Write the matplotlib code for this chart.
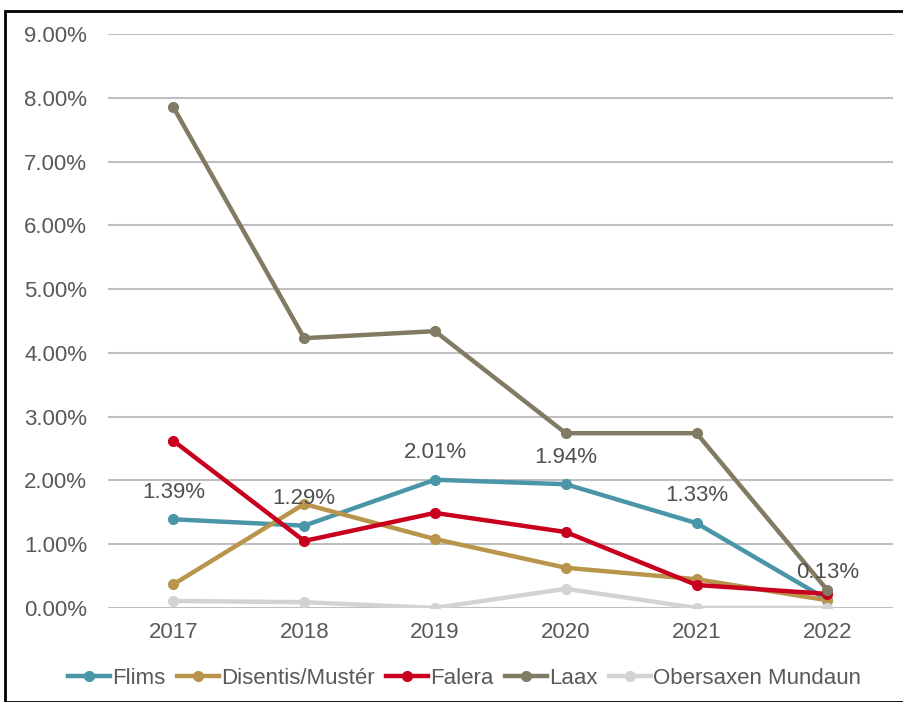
import matplotlib
matplotlib.use("Agg")
import matplotlib.pyplot as plt
from matplotlib.patches import Rectangle
from matplotlib.ticker import FuncFormatter

years = ["2017", "2018", "2019", "2020", "2021", "2022"]
flims = [1.39, 1.29, 2.01, 1.94, 1.33, 0.13]
disentis = [0.37, 1.63, 1.08, 0.63, 0.45, 0.12]
falera = [2.62, 1.05, 1.49, 1.19, 0.36, 0.22]
laax = [7.85, 4.23, 4.34, 2.74, 2.74, 0.28]
obersaxen = [0.11, 0.09, 0.0, 0.30, 0.0, 0.0]

series = [
    ("Flims", flims, "#4A96A8"),
    ("Disentis/Mustér", disentis, "#B8954A"),
    ("Falera", falera, "#C8001E"),
    ("Laax", laax, "#807B62"),
    ("Obersaxen Mundaun", obersaxen, "#D3D3D3"),
]

txt = '#595959'
plt.rcParams['font.family'] = ['Liberation Sans', 'DejaVu Sans']
fig = plt.figure(figsize=(9.04, 7.02), dpi=100)
ax = fig.add_axes([0.1195, 0.134, 0.868, 0.8176])

x = list(range(len(years)))
for name, vals, col in series:
    ax.plot(x, vals, color=col, lw=3.2, marker='o', ms=7, label=name, zorder=3)

for xi, v in zip(x, flims):
    ax.annotate(f"{v:.2f}%", (xi, v), xytext=(0, 12), textcoords='offset points',
                ha='center', va='bottom', fontsize=16, color='#505050', zorder=4)

ax.set_xlim(-0.5, len(years) - 0.5)
ax.set_ylim(0, 9)
ax.set_yticks([i for i in range(10)])
ax.yaxis.set_major_formatter(FuncFormatter(lambda v, p: f"{v:.2f}%"))
ax.set_xticks(x)
ax.set_xticklabels(years)
ax.tick_params(length=0, labelsize=16, colors=txt, pad=10)
ax.tick_params(axis='y', pad=15)
ax.grid(axis='y', color='#BFBFBF', lw=1.5, zorder=0)
ax.set_axisbelow(True)
for s in ax.spines.values():
    s.set_visible(False)

leg = fig.legend(loc='center', bbox_to_anchor=(0.514, 0.034), ncol=5, frameon=False,
                 fontsize=16, handlelength=1.9, handletextpad=0.1, columnspacing=0.5,
                 labelcolor=txt)

fig.patches.append(Rectangle((5/904, 0), 1.0, 1 - 11/702, transform=fig.transFigure,
                             fill=False, edgecolor='black', lw=2))

fig.savefig("out.png", dpi=100)
